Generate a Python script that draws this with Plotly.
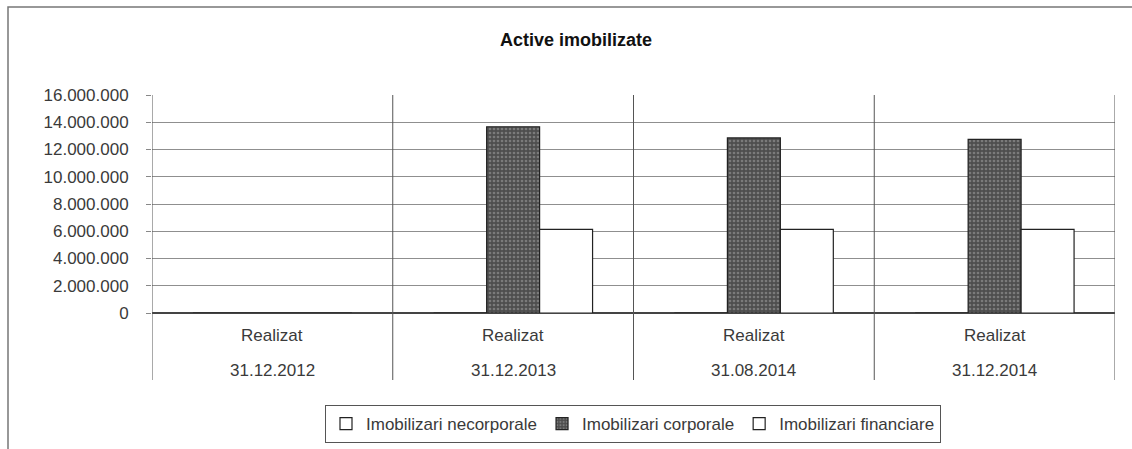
import plotly.graph_objects as go

categories = ["31.12.2012", "31.12.2013", "31.08.2014", "31.12.2014"]
row_label = "Realizat"
necorporale = [0, 0, 0, 0]
corporale = [0, 13670000, 12850000, 12750000]
financiare = [0, 6140000, 6140000, 6140000]
y_ticks = [0, 2000000, 4000000, 6000000, 8000000, 10000000, 12000000, 14000000, 16000000]

W, H = 1132, 449
L, R, T, B = 152, 17, 95, 136
pw, ph = W - L - R, H - T - B

def px_x(x):
    return (x - L) / pw

def px_y(y):
    return (H - B - y) / ph

FONT = "Liberation Sans, Arial, sans-serif"
x_idx = list(range(len(categories)))

fig = go.Figure()
fig.add_trace(go.Bar(x=x_idx, y=necorporale, name="Imobilizari necorporale",
                     marker=dict(color="white", line=dict(color="#222", width=1.2))))
fig.add_trace(go.Bar(x=x_idx, y=corporale, name="Imobilizari corporale",
                     marker=dict(color="#5a5a5a", line=dict(color="#222", width=1.2),
                                 pattern=dict(shape=".", bgcolor="#4e4e4e", fgcolor="#a8a8a8",
                                              size=4, solidity=0.35))))
fig.add_trace(go.Bar(x=x_idx, y=financiare, name="Imobilizari financiare",
                     marker=dict(color="white", line=dict(color="#222", width=1.2))))

shapes = []
for b in [i - 0.5 for i in range(len(categories) + 1)]:
    shapes.append(dict(type="line", xref="x", yref="paper", x0=b, x1=b,
                       y0=px_y(380), y1=1, line=dict(color="#555", width=1), layer="above"))
shapes.append(dict(type="rect", xref="paper", yref="paper",
                   x0=px_x(8), x1=px_x(1145), y0=px_y(470), y1=px_y(7),
                   line=dict(color="#777", width=1.5), layer="below"))

annotations = []
for i, c in enumerate(categories):
    annotations.append(dict(x=i, xref="x", y=px_y(335), yref="paper", text=row_label,
                            showarrow=False, xanchor="center", yanchor="middle",
                            font=dict(family=FONT, size=17, color="#3a3a3a")))
    annotations.append(dict(x=i, xref="x", y=px_y(370), yref="paper", text=c,
                            showarrow=False, xanchor="center", yanchor="middle",
                            font=dict(family=FONT, size=17, color="#3a3a3a")))

fig.update_layout(
    width=W, height=H,
    margin=dict(l=L, r=R, t=T, b=B, autoexpand=False),
    paper_bgcolor="white", plot_bgcolor="white",
    separators=",.",
    barmode="group", bargap=0.34, bargroupgap=0,
    font=dict(family=FONT, size=17, color="#3a3a3a"),
    title=dict(text="<b>Active imobilizate</b>", x=px_x(576), xref="paper", xanchor="center",
               y=1 - 40 / H, yref="container", yanchor="middle",
               font=dict(family=FONT, size=18, color="#111")),
    xaxis=dict(tickmode="array", tickvals=x_idx, ticktext=["" for _ in x_idx], range=[-0.5, 3.5],
               showgrid=False, zeroline=False, showline=False, ticks="", fixedrange=True),
    yaxis=dict(range=[0, 16000000], tickvals=y_ticks, tickformat=",d",
               showgrid=True, gridcolor="#8f8f8f", gridwidth=1,
               zeroline=True, zerolinecolor="#444", zerolinewidth=1.2,
               showline=False, ticks="outside", ticklen=5, tickcolor="#888",
               ticklabelstandoff=14,
               tickfont=dict(family=FONT, size=17, color="#3a3a3a"), fixedrange=True),
    legend=dict(orientation="h", x=px_x(633), xanchor="center", y=px_y(424), yanchor="middle",
                bordercolor="#555", borderwidth=1, bgcolor="white",
                font=dict(family=FONT, size=17, color="#3a3a3a"), itemwidth=30, traceorder="normal"),
    shapes=shapes,
    annotations=annotations,
    hovermode=False,
)

fig.write_html("out.html", config={"displayModeBar": False, "staticPlot": True},
               post_script="document.body.style.margin='0';document.body.style.overflow='hidden';")
